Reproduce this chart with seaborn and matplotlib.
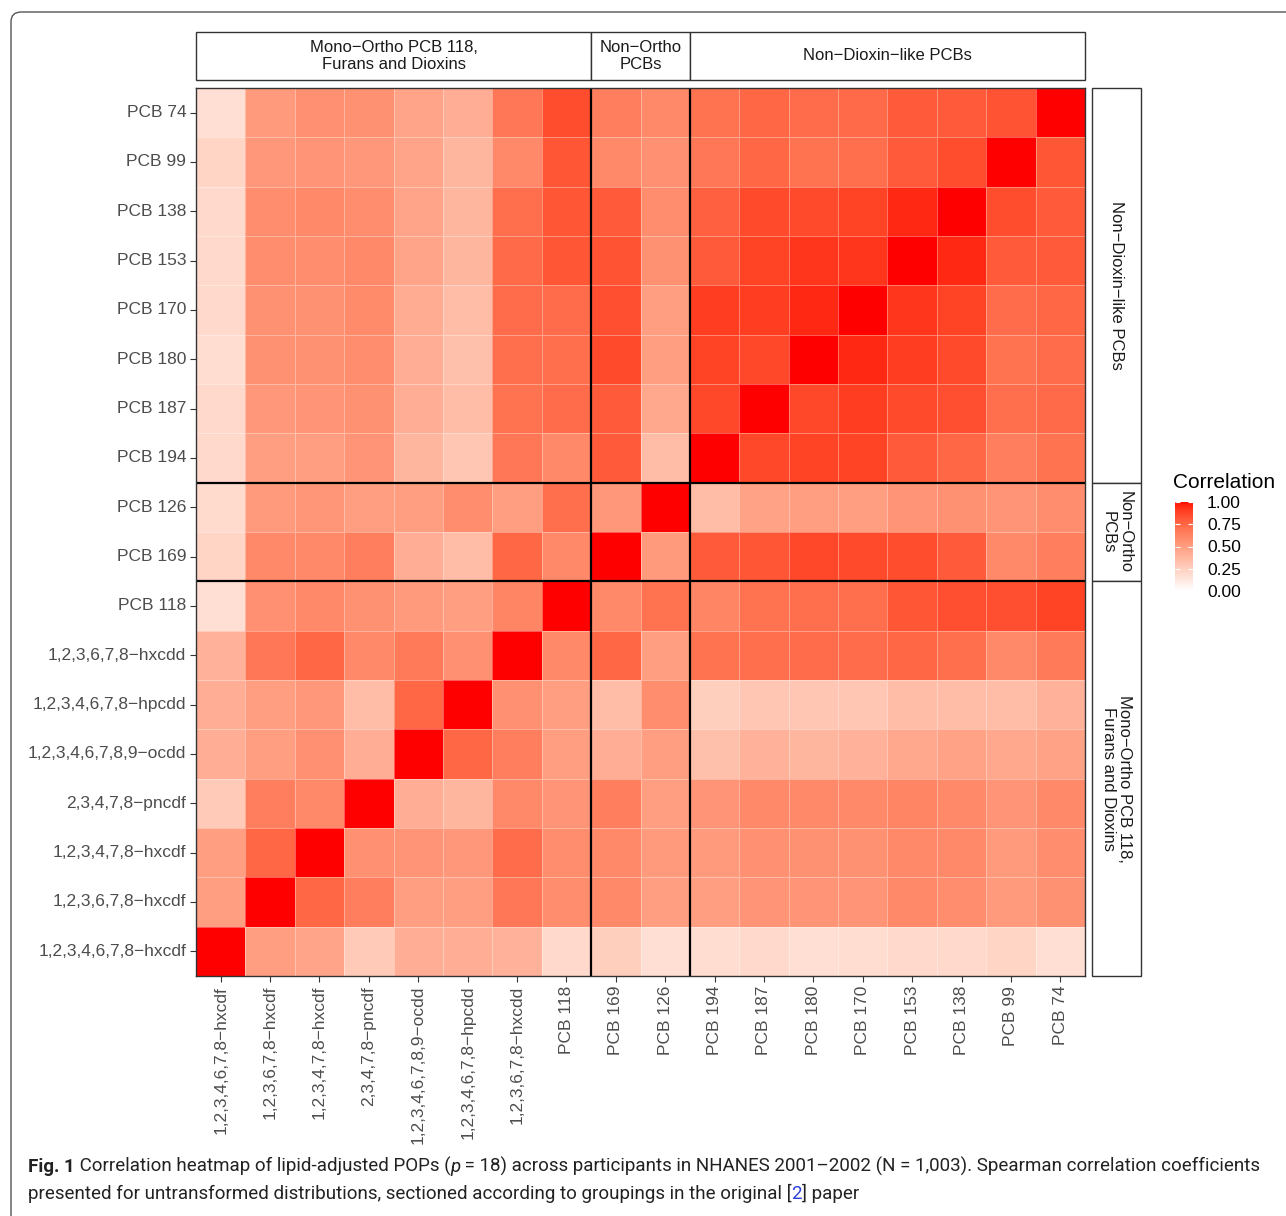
import numpy as np
import pandas as pd
import matplotlib
matplotlib.use("Agg")
import matplotlib.pyplot as plt
import seaborn as sns
from matplotlib import font_manager
from matplotlib.patches import Rectangle, FancyBboxPatch
from matplotlib.colors import ListedColormap

# pollutants in column order (left to right); rows are drawn in reverse
pops = [
    "1,2,3,4,6,7,8−hxcdf", "1,2,3,6,7,8−hxcdf", "1,2,3,4,7,8−hxcdf",
    "2,3,4,7,8−pncdf", "1,2,3,4,6,7,8,9−ocdd", "1,2,3,4,6,7,8−hpcdd",
    "1,2,3,6,7,8−hxcdd", "PCB 118", "PCB 169", "PCB 126", "PCB 194",
    "PCB 187", "PCB 180", "PCB 170", "PCB 153", "PCB 138", "PCB 99", "PCB 74",
]

groups = ["Mono−Ortho PCB 118,\nFurans and Dioxins", "Non−Ortho\nPCBs", "Non−Dioxin−like PCBs"]
group_sizes = [8, 2, 8]

# Spearman correlations (values in the column order above)
rho = {
    "PCB 74":  [0.17, 0.52, 0.57, 0.56, 0.47, 0.42, 0.68, 0.85, 0.65, 0.60, 0.70, 0.75, 0.73, 0.74, 0.80, 0.80, 0.83, 1.00],
    "PCB 99":  [0.22, 0.53, 0.55, 0.53, 0.47, 0.38, 0.60, 0.82, 0.60, 0.57, 0.68, 0.75, 0.70, 0.72, 0.80, 0.85, 1.00, 0.82],
    "PCB 138": [0.20, 0.58, 0.60, 0.58, 0.47, 0.38, 0.72, 0.82, 0.80, 0.58, 0.78, 0.86, 0.86, 0.88, 0.95, 1.00, 0.85, 0.80],
    "PCB 153": [0.20, 0.58, 0.58, 0.60, 0.47, 0.38, 0.74, 0.82, 0.83, 0.56, 0.80, 0.88, 0.92, 0.92, 1.00, 0.95, 0.80, 0.80],
    "PCB 170": [0.20, 0.56, 0.56, 0.59, 0.43, 0.35, 0.73, 0.73, 0.84, 0.50, 0.90, 0.90, 0.95, 1.00, 0.92, 0.88, 0.73, 0.75],
    "PCB 180": [0.18, 0.56, 0.56, 0.58, 0.42, 0.33, 0.72, 0.72, 0.86, 0.50, 0.88, 0.87, 1.00, 0.95, 0.90, 0.86, 0.70, 0.73],
    "PCB 187": [0.20, 0.53, 0.55, 0.56, 0.42, 0.34, 0.70, 0.73, 0.80, 0.45, 0.87, 1.00, 0.87, 0.90, 0.86, 0.84, 0.72, 0.74],
    "PCB 194": [0.20, 0.50, 0.50, 0.55, 0.38, 0.30, 0.68, 0.60, 0.80, 0.35, 1.00, 0.87, 0.88, 0.88, 0.80, 0.75, 0.65, 0.70],
    "PCB 126": [0.19, 0.52, 0.54, 0.50, 0.50, 0.58, 0.50, 0.72, 0.53, 1.00, 0.35, 0.48, 0.50, 0.50, 0.55, 0.56, 0.55, 0.58],
    "PCB 169": [0.22, 0.60, 0.60, 0.65, 0.42, 0.35, 0.75, 0.60, 1.00, 0.52, 0.80, 0.82, 0.87, 0.86, 0.85, 0.80, 0.60, 0.65],
    "PCB 118": [0.17, 0.57, 0.60, 0.56, 0.52, 0.50, 0.62, 1.00, 0.60, 0.70, 0.62, 0.70, 0.72, 0.72, 0.82, 0.84, 0.84, 0.88],
    "1,2,3,6,7,8−hxcdd":    [0.40, 0.68, 0.75, 0.60, 0.67, 0.57, 1.00, 0.60, 0.75, 0.50, 0.70, 0.72, 0.73, 0.73, 0.75, 0.72, 0.60, 0.67],
    "1,2,3,4,6,7,8−hpcdd":  [0.42, 0.50, 0.53, 0.35, 0.75, 1.00, 0.57, 0.50, 0.35, 0.58, 0.25, 0.30, 0.30, 0.30, 0.35, 0.35, 0.35, 0.40],
    "1,2,3,4,6,7,8,9−ocdd": [0.42, 0.50, 0.57, 0.42, 1.00, 0.75, 0.65, 0.50, 0.42, 0.50, 0.33, 0.40, 0.38, 0.40, 0.45, 0.48, 0.45, 0.48],
    "2,3,4,7,8−pncdf":      [0.28, 0.65, 0.60, 1.00, 0.42, 0.38, 0.60, 0.55, 0.65, 0.50, 0.55, 0.60, 0.60, 0.60, 0.62, 0.60, 0.55, 0.60],
    "1,2,3,4,7,8−hxcdf":    [0.50, 0.75, 1.00, 0.57, 0.55, 0.53, 0.73, 0.58, 0.60, 0.52, 0.52, 0.57, 0.56, 0.56, 0.60, 0.60, 0.52, 0.58],
    "1,2,3,6,7,8−hxcdf":    [0.50, 1.00, 0.75, 0.65, 0.50, 0.50, 0.68, 0.58, 0.60, 0.50, 0.50, 0.55, 0.55, 0.55, 0.60, 0.58, 0.52, 0.56],
    "1,2,3,4,6,7,8−hxcdf":  [1.00, 0.50, 0.47, 0.28, 0.42, 0.42, 0.40, 0.20, 0.25, 0.17, 0.18, 0.20, 0.17, 0.18, 0.20, 0.20, 0.22, 0.17],
}

legend_ticks = [0.0, 0.25, 0.5, 0.75, 1.0]


def srgb_to_lab(rgb):
    rgb = np.asarray(rgb, float)
    lin = np.where(rgb <= 0.04045, rgb / 12.92, ((rgb + 0.055) / 1.055) ** 2.4)
    m = np.array([[0.4124, 0.3576, 0.1805], [0.2126, 0.7152, 0.0722], [0.0193, 0.1192, 0.9505]])
    xyz = m @ lin / np.array([0.95047, 1.0, 1.08883])
    f = np.where(xyz > 0.008856, np.cbrt(xyz), 7.787 * xyz + 16 / 116)
    return np.array([116 * f[1] - 16, 500 * (f[0] - f[1]), 200 * (f[1] - f[2])])


def lab_to_srgb(lab):
    L, a, b = lab
    fy = (L + 16) / 116
    f = np.array([fy + a / 500, fy, fy - b / 200])
    xyz = np.where(f ** 3 > 0.008856, f ** 3, (f - 16 / 116) / 7.787) * np.array([0.95047, 1.0, 1.08883])
    minv = np.array([[3.2406, -1.5372, -0.4986], [-0.9689, 1.8758, 0.0415], [0.0557, -0.2040, 1.0570]])
    lin = np.clip(minv @ xyz, 0, 1)
    rgb = np.where(lin <= 0.0031308, 12.92 * lin, 1.055 * lin ** (1 / 2.4) - 0.055)
    return np.clip(rgb, 0, 1)


# white -> red ramp interpolated in Lab, like ggplot's scale_fill_gradient
lab_lo = srgb_to_lab([1, 1, 1])
lab_hi = srgb_to_lab([1, 0, 0])
cmap = ListedColormap([lab_to_srgb(lab_lo + (lab_hi - lab_lo) * t) for t in np.linspace(0, 1, 256)])

plt.rcParams["font.family"] = ["Liberation Sans", "DejaVu Sans"]

W, H = 1286, 1216
fig = plt.figure(figsize=(W / 100, H / 100), dpi=100)


def px_rect(x0, y0, x1, y1):
    return [x0 / W, 1 - y1 / H, (x1 - x0) / W, (y1 - y0) / H]


ax = fig.add_axes(px_rect(196, 88, 1085, 976))
cax = fig.add_axes(px_rect(1175, 502, 1193, 591))

mat = pd.DataFrame([rho[p] for p in pops], index=pops, columns=pops)
mat = mat.loc[pops[::-1]]

sns.heatmap(
    mat, ax=ax, cmap=cmap, vmin=0, vmax=1,
    linewidths=0.6, linecolor=(1, 1, 1, 0.35),
    xticklabels=True, yticklabels=True,
    cbar_ax=cax,
)

# group separators and panel border
edges = np.cumsum(group_sizes)[:-1]
for e in edges:
    ax.axvline(e, color="black", lw=1.6)
    ax.axhline(e, color="black", lw=1.6)
for sp in ax.spines.values():
    sp.set_visible(True)
    sp.set_color("#333333")
    sp.set_linewidth(1.0)

ax.set_xlabel("")
ax.set_ylabel("")
ax.tick_params(axis="both", labelsize=12.5, labelcolor="#4D4D4D", color="#333333",
               length=4, width=0.8, pad=3)
plt.setp(ax.get_xticklabels(), rotation=90, ha="center", va="top")
plt.setp(ax.get_yticklabels(), rotation=0)

# colorbar legend
cbar = ax.collections[0].colorbar
cbar.outline.set_visible(False)
cbar.set_ticks(legend_ticks)
cbar.set_ticklabels([f"{t:.2f}" for t in legend_ticks])
cax.yaxis.set_ticks_position("both")
cax.tick_params(direction="in", color="white", length=3.5, width=0.8,
                labelsize=12.5, labelcolor="black", pad=10)
cax.yaxis.set_tick_params(labelleft=False, labelright=True)
fig.text(1173 / W, 1 - 488 / H, "Correlation", fontsize=15, color="black", va="baseline")

# facet strips
ax_top = fig.add_axes(px_rect(196, 32, 1085, 80))
ax_right = fig.add_axes(px_rect(1092, 88, 1141, 976))
start = 0
for g, n in zip(groups, group_sizes):
    ax_top.add_patch(Rectangle((start, 0), n, 1, facecolor="white", edgecolor="#333333",
                               lw=1.0, clip_on=False))
    ax_top.text(start + n / 2, 0.5, g, ha="center", va="center", fontsize=12,
                color="#1A1A1A", linespacing=1.15)
    start += n
ax_top.set_xlim(0, 18)
ax_top.set_ylim(0, 1)
ax_top.axis("off")

start = 0
for g, n in zip(groups[::-1], group_sizes[::-1]):
    ax_right.add_patch(Rectangle((0, start), 1, n, facecolor="white", edgecolor="#333333",
                                 lw=1.0, clip_on=False))
    ax_right.text(0.5, start + n / 2, g, ha="center", va="center", fontsize=12,
                  color="#1A1A1A", rotation=270, linespacing=1.15)
    start += n
ax_right.set_xlim(0, 1)
ax_right.set_ylim(18, 0)
ax_right.axis("off")

# journal frame
fig.add_artist(FancyBboxPatch((11 / W, -0.05), 1.1, 1 - 12 / H + 0.05,
                              boxstyle="round,pad=0,rounding_size=0.008",
                              transform=fig.transFigure, facecolor="none",
                              edgecolor="#555555", lw=1.0))

# caption, drawn run by run so bold / italic / blue pieces line up
names = {f.name for f in font_manager.fontManager.ttflist}
cap_font = "Liberation Sans Narrow" if "Liberation Sans Narrow" in names else "Roboto"
renderer = fig.canvas.get_renderer()

line1 = [
    ("Fig. 1", dict(weight="bold")),
    (" Correlation heatmap of lipid-adjusted POPs (", {}),
    ("p", dict(style="italic")),
    (" = 18) across participants in NHANES 2001–2002 (N = 1,003). Spearman correlation coefficients", {}),
]
line2 = [
    ("presented for untransformed distributions, sectioned according to groupings in the original [", {}),
    ("2", dict(color="#2A3FD6")),
    ("] paper", {}),
]


def draw_runs(x_px, y_px, runs, size):
    x = x_px / W
    for txt, kw in runs:
        opts = dict(fontsize=size, family=[cap_font, "DejaVu Sans"], color="#222222", va="baseline")
        opts.update(kw)
        t = fig.text(x, 1 - y_px / H, txt, **opts)
        bb = t.get_window_extent(renderer)
        x = bb.x1 / fig.bbox.width
    return x * W - x_px


# fit the first caption line to the reference width
probe = draw_runs(28, -100, line1, 14)
for t in fig.texts[-len(line1):]:
    t.remove()
cap_size = 14 * (1242 / probe)
draw_runs(28, 1172, line1, cap_size)
draw_runs(28, 1199, line2, cap_size)

fig.savefig("out.png", dpi=100, facecolor="white")
